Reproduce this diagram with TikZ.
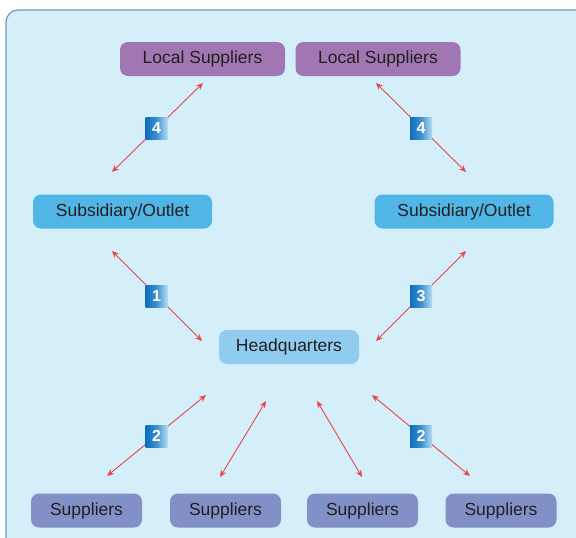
\documentclass[tikz,border=0pt]{standalone}
\usepackage{fontspec}
\setmainfont{Liberation Sans}
\usetikzlibrary{arrows.meta}

\definecolor{bgfill}{HTML}{D4EEFA}
\definecolor{bgline}{HTML}{6E9DB6}
\definecolor{localfill}{HTML}{A077B3}
\definecolor{subfill}{HTML}{4FB6E6}
\definecolor{hqfill}{HTML}{8FCCF0}
\definecolor{supfill}{HTML}{8191C8}
\definecolor{txt}{HTML}{231F20}
\definecolor{arrowred}{HTML}{E8464C}
\definecolor{badgedark}{HTML}{0B6FBE}
\definecolor{badgelight}{HTML}{B4DDF2}

\begin{document}
\begin{tikzpicture}[x=1pt,y=-1pt]
                \tikzstyle{box}=[rounded corners=8pt, inner sep=0pt, text=txt, minimum height=34pt, font=\fontsize{17.5}{19}\selectfont]
                \tikzstyle{local}=[box, fill=localfill, minimum width=165pt]
                \tikzstyle{sub}=[box, fill=subfill, minimum width=179pt]
                \tikzstyle{hq}=[box, fill=hqfill, minimum width=140pt]
                \tikzstyle{sup}=[box, fill=supfill, minimum width=111pt]
                \tikzstyle{link}=[arrowred, line width=0.9pt, {Stealth[length=7pt,width=6pt]}-{Stealth[length=7pt,width=6pt]}]
                \tikzstyle{badge}=[minimum size=22pt, inner sep=0pt, shading=axis, left color=badgedark, right color=badgelight, middle color=badgedark!70!badgelight, text=white, font=\fontsize{16}{16}\selectfont\bfseries]

                \useasboundingbox (0,0) rectangle (576,538);
                \clip (0,0) rectangle (576,538);
                \draw[bgline, fill=bgfill, line width=1.2pt, rounded corners=12pt] (6,10) rectangle (610,570);

                \node[local] (loc1) at (202.5,59) {Local Suppliers};
                \node[local] (loc2) at (378,59) {Local Suppliers};
                \node[sub] (subl) at (122.5,211.5) {Subsidiary/Outlet};
                \node[sub] (subr) at (464,211.5) {Subsidiary/Outlet};
                \node[hq] (hq) at (289,347) {Headquarters};
                \node[sup] (sup1) at (86.5,510.5) {Suppliers};
                \node[sup] (sup2) at (225.5,510.5) {Suppliers};
                \node[sup] (sup3) at (362.5,510.5) {Suppliers};
                \node[sup] (sup4) at (501,510.5) {Suppliers};

                % arrow ends
                \coordinate (a1) at (203,83);
                \coordinate (a2) at (112,172);
                \coordinate (b1) at (376,83);
                \coordinate (b2) at (466,172);
                \coordinate (c1) at (112,251);
                \coordinate (c2) at (202,341);
                \coordinate (d1) at (466,251);
                \coordinate (d2) at (376,341);
                \coordinate (e1) at (206,395);
                \coordinate (e2) at (107,476);
                \coordinate (f1) at (266,401);
                \coordinate (f2) at (220,477);
                \coordinate (g1) at (317,401);
                \coordinate (g2) at (362,477);
                \coordinate (h1) at (372,395);
                \coordinate (h2) at (470,476);

                \draw[link] (a1) -- (a2);
                \draw[link] (b1) -- (b2);
                \draw[link] (c1) -- (c2);
                \draw[link] (d1) -- (d2);
                \draw[link] (e1) -- (e2);
                \draw[link] (f1) -- (f2);
                \draw[link] (g1) -- (g2);
                \draw[link] (h1) -- (h2);

                \node[badge] (n4l) at (156.5,128) {4};
                \node[badge] (n4r) at (421,128) {4};
                \node[badge] (n1) at (156.5,296) {1};
                \node[badge] (n3) at (421,296) {3};
                \node[badge] (n2l) at (156.5,436) {2};
                \node[badge] (n2r) at (421,436) {2};
            \end{tikzpicture}
\end{document}
